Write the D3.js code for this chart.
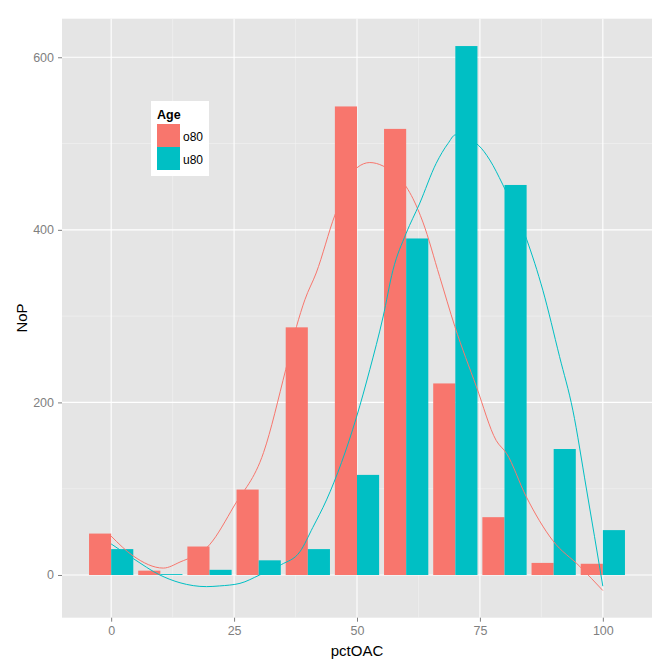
<!DOCTYPE html>
<html><head><meta charset="utf-8">
<script src="https://cdn.jsdelivr.net/npm/d3@7"></script>
<style>body{margin:0;background:#fff}svg{display:block}</style>
</head><body>
<script>
const bins = [0,10,20,30,40,50,60,70,80,90,100];
const o80 = [48,5,33,99,287,543,517,222,67,14,13];
const u80 = [30,1,6,17,30,116,390,613,452,146,52];
const groups = ["o80","u80"];
const colors = ["#F8766D","#00BFC4"];
const xTicks = [0,25,50,75,100];
const yTicks = [0,200,400,600];
const xMinor = [12.5,37.5,62.5,87.5];
const yMinor = [100,300,500];
// loess smooth curves
const smoothO80X = [0,4.5,10.6,14,20,25,31,35.5,37.7,39.4,41.7,45.5,50,52.6,55.3,60,61.4,63.4,66.8,69.9,74.3,78.3,80.4,84.4,89.8,95.3,100];
const smoothO80Y = [45,22,8,15,35,80,142,238,288,319,350,417,472,478,474,450,436,409,346,288,218,156,141,91,40,10,-18];
const smoothU80X = [0,4.5,9.9,14,19.4,22,26.2,30.2,34.6,38.4,41,43.8,49.9,52.6,55.3,57.3,60,62.7,66.1,68.5,70,74.7,77,79.6,84.5,87.8,91.2,93.9,96.6,100];
const smoothU80Y = [36,19,0,-9,-13.5,-12.7,-9.7,0,12,27,55,87,183,238,299,353,396,430,477,500,510,498,481,453,389,330,253,191,102,-13];

const W = 672, H = 671;
const L = 62, R = 652, T = 18.7, B = 617.7;
const svg = d3.select("body").append("svg").attr("width",W).attr("height",H);
const x = d3.scaleLinear().domain([-10,110]).range([L,R]);
const y = d3.scaleLinear().domain([-49.5,644.7]).range([B,T]);
const font = "'Liberation Sans', Arial, sans-serif";

svg.append("rect").attr("x",L).attr("y",T).attr("width",R-L).attr("height",B-T).attr("fill","#E5E5E5");
const g = svg.append("g");
g.selectAll(".xmin").data(xMinor).join("line").attr("x1",d=>x(d)).attr("x2",d=>x(d)).attr("y1",T).attr("y2",B).attr("stroke","#F2F2F2").attr("stroke-width",0.6);
g.selectAll(".ymin").data(yMinor).join("line").attr("y1",d=>y(d)).attr("y2",d=>y(d)).attr("x1",L).attr("x2",R).attr("stroke","#F2F2F2").attr("stroke-width",0.6);
g.selectAll(".xmaj").data(xTicks).join("line").attr("x1",d=>x(d)).attr("x2",d=>x(d)).attr("y1",T).attr("y2",B).attr("stroke","#fff").attr("stroke-width",1.1);
g.selectAll(".ymaj").data(yTicks).join("line").attr("y1",d=>y(d)).attr("y2",d=>y(d)).attr("x1",L).attr("x2",R).attr("stroke","#fff").attr("stroke-width",1.1);

// bars
const series = [o80,u80];
series.forEach((vals,si)=>{
  svg.append("g").selectAll("rect").data(bins.map((b,i)=>({b,v:vals[i]}))).join("rect")
    .attr("x",d=>x(d.b-4.5+si*4.5)).attr("width",d=>x(d.b+4.5)-x(d.b))
    .attr("y",d=>y(d.v)).attr("height",d=>y(0)-y(d.v)).attr("fill",colors[si]);
});

// smooth lines
const line = d3.line().x(d=>x(d[0])).y(d=>y(d[1])).curve(d3.curveMonotoneX);
svg.append("path").datum(smoothO80X.map((v,i)=>[v,smoothO80Y[i]])).attr("d",line).attr("fill","none").attr("stroke",colors[0]).attr("stroke-width",1);
svg.append("path").datum(smoothU80X.map((v,i)=>[v,smoothU80Y[i]])).attr("d",line).attr("fill","none").attr("stroke",colors[1]).attr("stroke-width",1);

// axes
const xa = svg.append("g").attr("transform",`translate(0,${B})`).call(d3.axisBottom(x).tickValues(xTicks).tickSize(4).tickPadding(4));
const ya = svg.append("g").attr("transform",`translate(${L},0)`).call(d3.axisLeft(y).tickValues(yTicks).tickSize(4).tickPadding(4));
[xa,ya].forEach(a=>{
  a.select(".domain").remove();
  a.selectAll(".tick line").attr("stroke","#7F7F7F");
  a.selectAll(".tick text").attr("fill","#7F7F7F").attr("font-family",font).attr("font-size",12.5);
});

svg.append("text").attr("x",x(50)).attr("y",656).attr("text-anchor","middle").attr("font-family",font).attr("font-size",15).text("pctOAC");
svg.append("text").attr("transform",`translate(27,318) rotate(-90)`).attr("text-anchor","middle").attr("font-family",font).attr("font-size",15).text("NoP");

// legend
const lg = svg.append("g");
lg.append("rect").attr("x",151).attr("y",101).attr("width",58).attr("height",75).attr("fill","#fff");
lg.append("text").attr("x",157).attr("y",119).attr("font-family",font).attr("font-size",12.5).attr("font-weight","bold").text("Age");
groups.forEach((gname,i)=>{
  lg.append("rect").attr("x",157).attr("y",124+i*23).attr("width",23).attr("height",23).attr("fill",colors[i]);
  lg.append("text").attr("x",183).attr("y",141+i*23).attr("font-family",font).attr("font-size",12).text(gname);
});
</script>
</body></html>
